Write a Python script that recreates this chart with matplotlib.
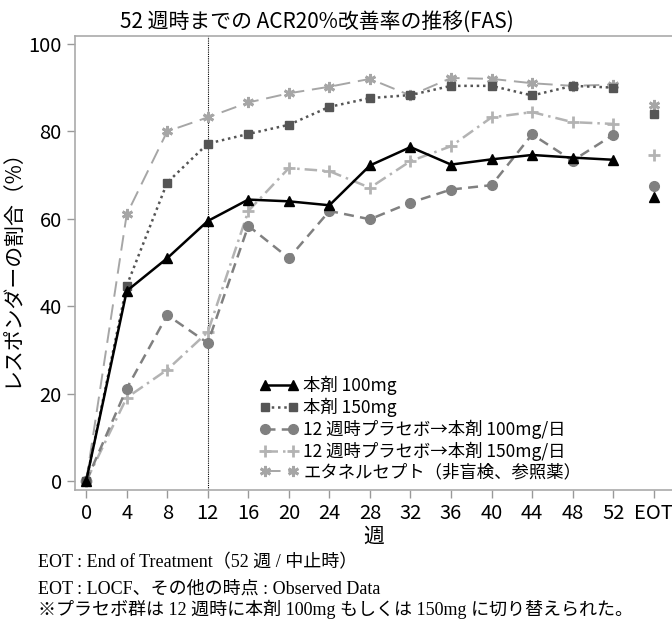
import numpy as np
import matplotlib
matplotlib.use('Agg')
import matplotlib.pyplot as plt

plt.rcParams['font.family'] = ['Liberation Sans Narrow', 'Noto Sans CJK JP', 'DejaVu Sans']

weeks = [0, 4, 8, 12, 16, 20, 24, 28, 32, 36, 40, 44, 48, 52]
eot_pos = 56
xtick_labels = ['0', '4', '8', '12', '16', '20', '24', '28', '32', '36', '40', '44', '48', '52', 'EOT']

d100 = [0, 43.5, 51.0, 59.5, 64.4, 64.0, 63.1, 72.2, 76.4, 72.4, 73.6, 74.6, 74.0, 73.5]
d150 = [0, 44.7, 68.3, 77.2, 79.4, 81.5, 85.6, 87.6, 88.3, 90.4, 90.4, 88.2, 90.4, 90.0]
pla100 = [0, 21.2, 38.0, 31.6, 58.4, 51.0, 61.8, 59.9, 63.7, 66.7, 67.7, 79.3, 73.3, 79.2]
pla150 = [0, 19.1, 25.5, 34.1, 61.8, 71.6, 70.9, 67.1, 73.2, 76.6, 83.2, 84.4, 82.1, 81.7]
eta = [0, 61.0, 80.0, 83.2, 86.6, 88.7, 90.2, 92.0, 88.2, 92.2, 92.0, 91.0, 90.4, 90.7]

eot_vals = [65.0, 84.0, 67.5, 74.5, 86.1]

labels = ['本剤 100mg', '本剤 150mg', '12 週時プラセボ→本剤 100mg/日',
          '12 週時プラセボ→本剤 150mg/日', 'エタネルセプト（非盲検、参照薬）']

styles = [
    dict(color='#000000', ls='-', marker='^', ms=7, lw=1.8),
    dict(color='#555555', ls=(0, (1, 1.5)), marker='s', ms=6, lw=1.8),
    dict(color='#808080', ls=(0, (4, 2.5)), marker='o', ms=7, lw=1.8),
    dict(color='#b3b3b3', ls=(0, (5, 2, 1, 2)), marker='+', ms=9, lw=1.8, mew=2),
    dict(color='#a6a6a6', ls=(0, (8, 4)), marker=(6, 2, 0), ms=8, lw=1.4, mew=2),
]
series = [d100, d150, pla100, pla150, eta]

fig = plt.figure(figsize=(6.72, 6.21), dpi=100)
ax = fig.add_axes([75/672, 1-490/621, 1-75/672, (490-36)/621])

# draw back-to-front so black line ends up on top
order = [4, 3, 2, 1, 0]
handles = [None]*5
for i in order:
    st = dict(styles[i])
    mew = st.pop('mew', 1)
    h, = ax.plot(weeks, series[i], color=st['color'], ls=st['ls'], lw=st['lw'],
                 marker=st['marker'], ms=st['ms'], mew=mew, label=labels[i], zorder=3+ (4-i))
    ax.plot([eot_pos], [eot_vals[i]], ls='none', color=st['color'], marker=st['marker'],
            ms=st['ms'], mew=mew, zorder=3 + (4-i))
    handles[i] = h

ax.axvline(12, color='black', ls=(0, (1, 1)), lw=0.8, zorder=2)

ax.set_xlim(-1.1, 57.8)
ax.set_ylim(-2, 101.8)
ax.set_xticks(weeks + [eot_pos])
ax.set_xticklabels(xtick_labels)
ax.set_yticks([0, 20, 40, 60, 80, 100])
ax.tick_params(direction='out', length=6, color='#999999', labelsize=14.5, width=1)
for s in ['left', 'bottom', 'top']:
    ax.spines[s].set_color('#aaaaaa')
    ax.spines[s].set_linewidth(1.2)
ax.spines['right'].set_visible(False)

ax.set_xlabel('週', fontsize=15, labelpad=1)
ax.set_ylabel('レスポンダーの割合（%）', fontsize=15, labelpad=4)
ax.set_title('52 週時までの ACR20%改善率の推移(FAS)', fontsize=15, pad=5, x=(317-75)/(672-75))

leg = ax.legend(handles=handles, labels=labels, loc='lower left', bbox_to_anchor=(0.295, 0.0),
                frameon=False, numpoints=2, fontsize=12.5, handlelength=2.2,
                handletextpad=0.3, labelspacing=0.15, borderaxespad=0.3, borderpad=0.2)

foot = ['EOT : End of Treatment（52 週 / 中止時）',
        'EOT : LOCF、その他の時点 : Observed Data',
        '※プラセボ群は 12 週時に本剤 100mg もしくは 150mg に切り替えられた。']
fy = [563, 589, 609]
for t, y in zip(foot, fy):
    fig.text(38/672, 1-y/621, t, fontsize=13, va='center', ha='left',
             family=['Liberation Serif', 'Noto Sans CJK JP'])

fig.savefig('out.png', dpi=100)
